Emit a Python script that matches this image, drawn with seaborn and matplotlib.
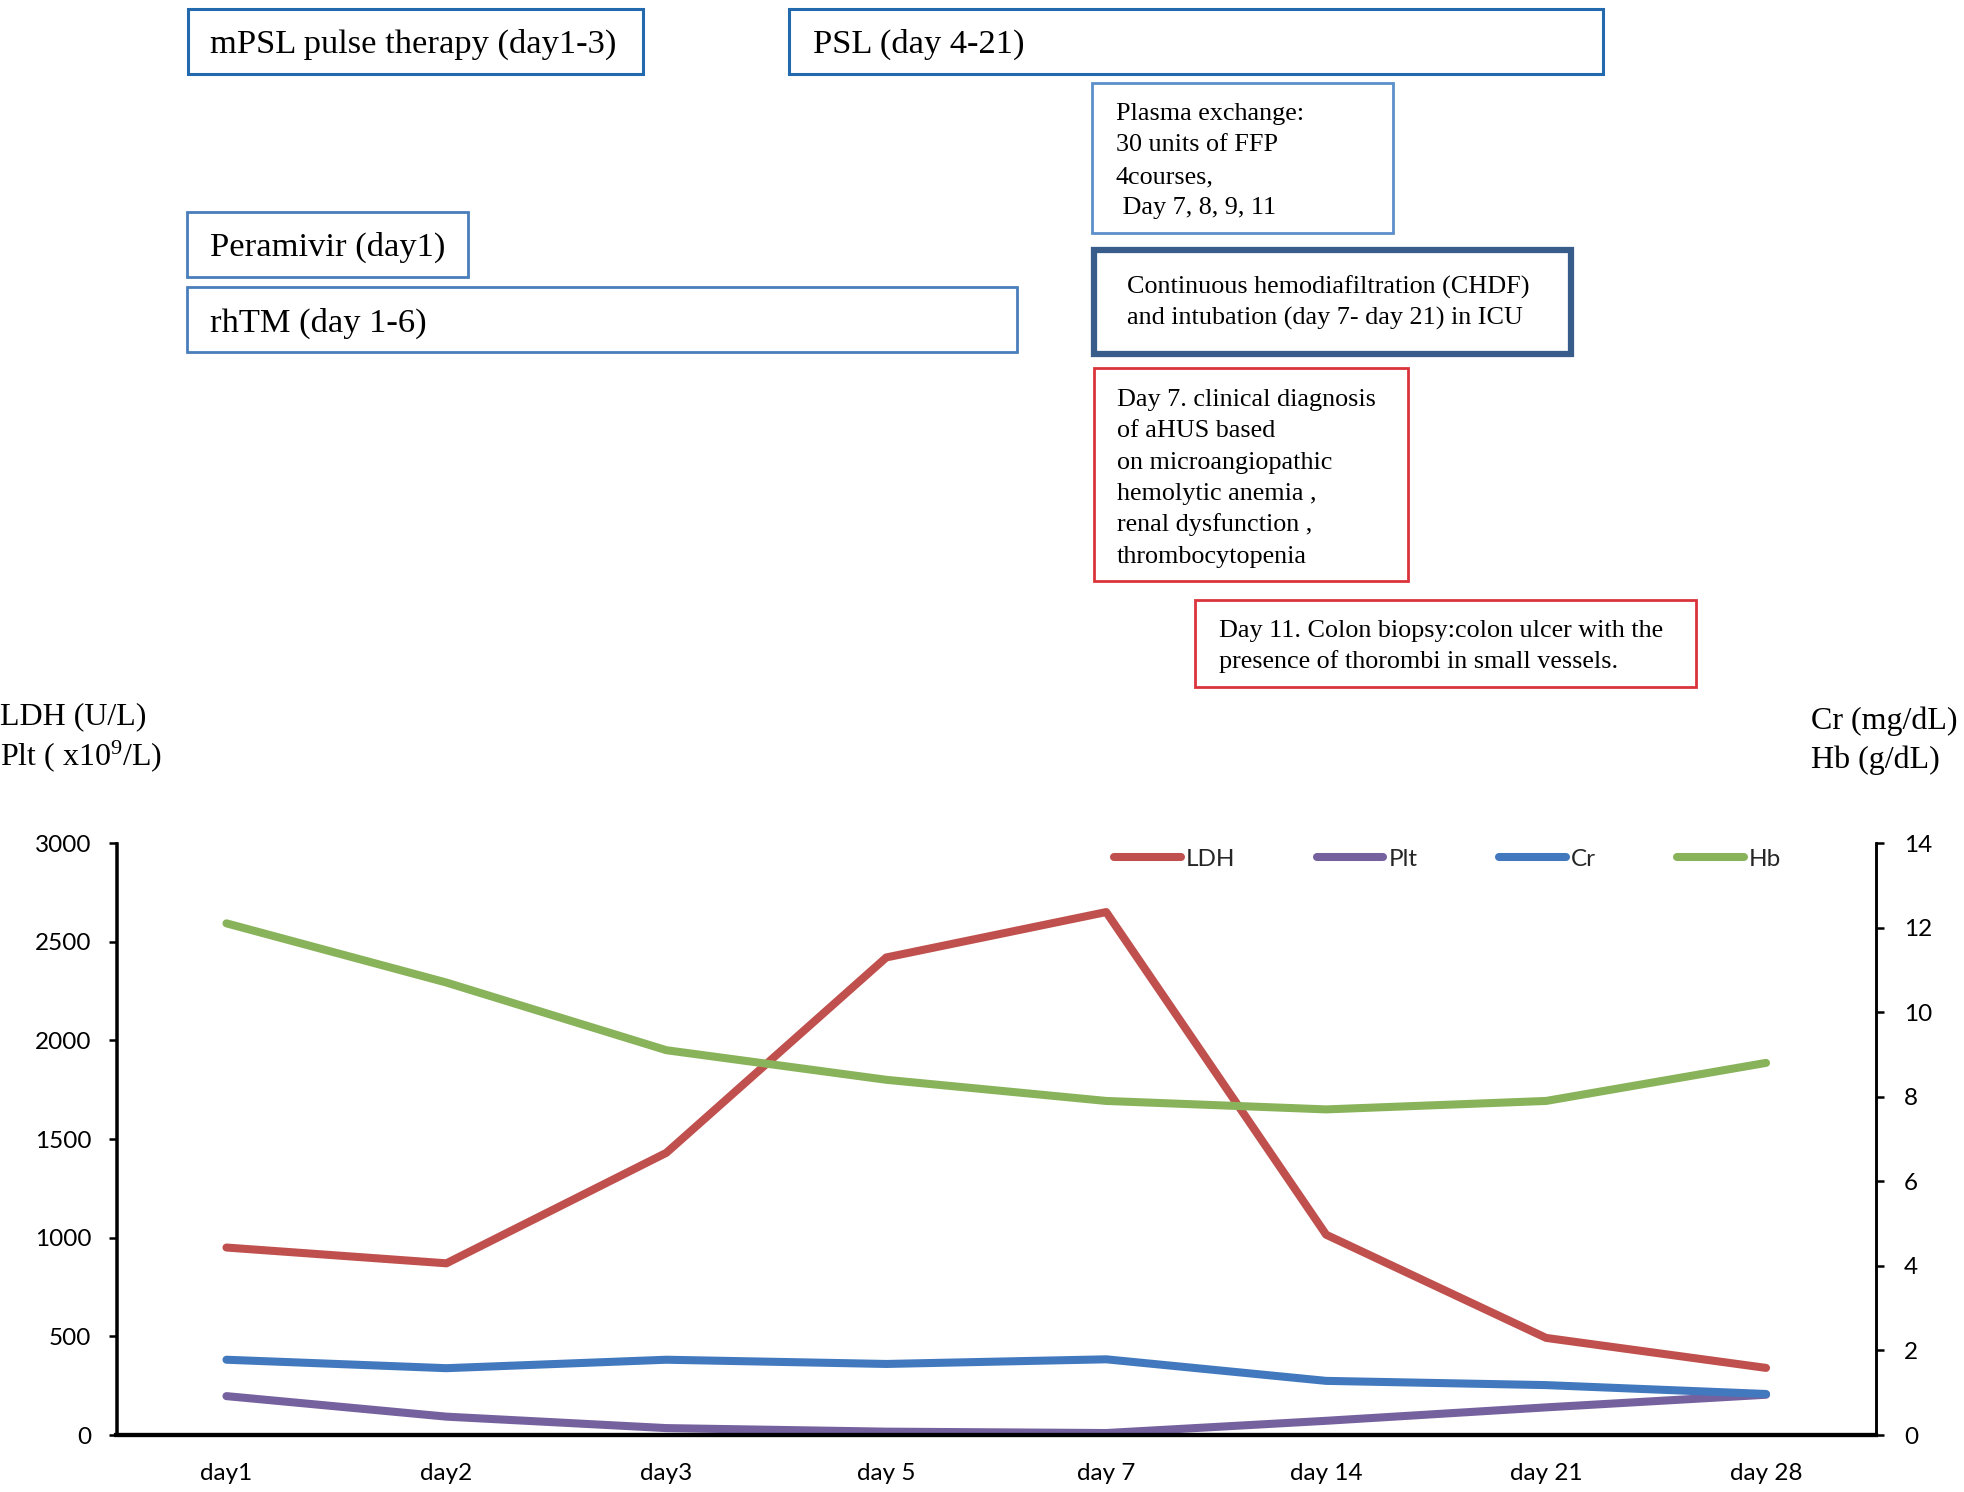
import matplotlib
matplotlib.use("Agg")
import matplotlib.pyplot as plt
from matplotlib.patches import Rectangle
from matplotlib.lines import Line2D
import seaborn as sns
import numpy as np

# ---------------- data ----------------
days = ["day1", "day2", "day3", "day 5", "day 7", "day 14", "day 21", "day 28"]
ldh = [950, 870, 1430, 2420, 2650, 1015, 492, 340]
plt_count = [197, 93, 35, 17, 10, 72, 140, 204]
cr = [1.78, 1.58, 1.78, 1.68, 1.79, 1.28, 1.18, 0.97]
hb = [12.1, 10.7, 9.1, 8.4, 7.9, 7.7, 7.9, 8.8]

left_ticks = [0, 500, 1000, 1500, 2000, 2500, 3000]
right_ticks = [0, 2, 4, 6, 8, 10, 12, 14]

c_ldh, c_plt, c_cr, c_hb = "#C0504D", "#75619E", "#4279BE", "#89B35A"

# ---------------- style ----------------
sns.set_style("white")
plt.rcParams["font.family"] = ["Lato", "DejaVu Sans"]
plt.rcParams["mathtext.fontset"] = "custom"
plt.rcParams["mathtext.rm"] = "Liberation Serif"
plt.rcParams["mathtext.it"] = "Liberation Serif:italic"

W, H = 1964, 1492
fig = plt.figure(figsize=(W / 100, H / 100), dpi=100)
fig.patch.set_facecolor("white")

# axes placement (pixels)
ax_l, ax_r, ax_t, ax_b = 116.5, 1876, 843, 1435
ax = fig.add_axes([ax_l / W, 1 - ax_b / H, (ax_r - ax_l) / W, (ax_b - ax_t) / H])
ax2 = ax.twinx()

x = np.arange(len(days))
lw = 5.8
sns.lineplot(x=x, y=ldh, ax=ax, color=c_ldh, linewidth=lw, legend=False)
sns.lineplot(x=x, y=plt_count, ax=ax, color=c_plt, linewidth=lw, legend=False)
sns.lineplot(x=x, y=cr, ax=ax2, color=c_cr, linewidth=lw, legend=False)
sns.lineplot(x=x, y=hb, ax=ax2, color=c_hb, linewidth=lw, legend=False)
for a in (ax, ax2):
    for ln in a.get_lines():
        ln.set_solid_joinstyle("round")
        ln.set_solid_capstyle("round")

ax.set_xlim(-0.5, len(days) - 0.5)
ax.set_ylim(0, 3000)
ax2.set_ylim(0, 14)
ax.set_xticks(x)
ax.set_xticklabels(days)
ax.set_yticks(left_ticks)
ax2.set_yticks(right_ticks)
ax.set_xlabel("")
ax.set_ylabel("")
ax2.set_ylabel("")

for a in (ax, ax2):
    a.spines["top"].set_visible(False)
    for s in ("left", "right"):
        a.spines[s].set_color("black")
        a.spines[s].set_linewidth(1.8)
    a.spines["bottom"].set_color("black")
    a.spines["bottom"].set_linewidth(3.0)
    a.grid(False)
ax.tick_params(axis="y", which="both", left=True, length=6, width=1.8, direction="out",
               labelsize=17.5, pad=12, colors="black")
ax2.tick_params(axis="y", which="both", right=True, length=6, width=1.8, direction="out",
                labelsize=17.5, pad=14, colors="black")
ax.tick_params(axis="x", length=0, labelsize=17.5, pad=20, colors="black")

# legend
handles = [Line2D([], [], color=c, lw=lw, solid_capstyle="round") for c in (c_ldh, c_plt, c_cr, c_hb)]
fig.legend(handles, ["LDH", "Plt", "Cr", "Hb"], loc="center left",
           bbox_to_anchor=(1114 / W, 1 - 859 / H), ncol=4, frameon=False,
           handlelength=2.75, handletextpad=0.2, columnspacing=3.35,
           borderpad=0, borderaxespad=0, fontsize=17.5)

# ---------------- annotation boxes ----------------
def box(x0, y0, x1, y1, color, lw_box):
    r = Rectangle((x0 / W, 1 - y1 / H), (x1 - x0) / W, (y1 - y0) / H,
                  transform=fig.transFigure, fill=False, edgecolor=color,
                  linewidth=lw_box, zorder=5)
    fig.add_artist(r)

def txt(xp, yp, s, size, ha="left"):
    fig.text(xp / W, 1 - yp / H, s, fontsize=size, ha=ha, va="center",
             family=["Liberation Serif", "DejaVu Serif"], color="black")

blue1 = "#2369AE"
blue2 = "#4A7EBB"
blue3 = "#5B8FCB"
navy = "#385D8A"
red = "#DA343B"

big, small, label = 24.8, 18.8, 23

box(188, 9, 643, 74, blue1, 2.2)
txt(210, 44, "mPSL pulse therapy (day1-3)", big)
box(789, 9, 1603, 74, blue1, 2.2)
txt(813, 44, "PSL (day 4-21)", big)

box(187, 212, 468, 277, blue2, 2.0)
txt(210, 247, "Peramivir (day1)", big)
box(187, 287, 1017, 352, blue2, 2.0)
txt(210, 323, "rhTM (day 1-6)", big)

box(1092, 83, 1393, 233, blue3, 2.0)
for yy, s in zip([114, 145, 177, 208],
                 ["Plasma exchange:", "30 units of FFP", "4courses,", " Day 7, 8, 9, 11"]):
    txt(1116, yy, s, small)

box(1094, 250, 1571, 354, navy, 4.5)
for yy, s in zip([287, 318], ["Continuous hemodiafiltration (CHDF)",
                              "and intubation (day 7- day 21) in ICU"]):
    txt(1127, yy, s, small)

box(1094, 368, 1408, 581, red, 2.0)
for yy, s in zip([400, 431, 463, 494, 525, 557],
                 ["Day 7. clinical diagnosis", "of aHUS based", "on microangiopathic",
                  "hemolytic anemia ,", "renal dysfunction ,", "thrombocytopenia"]):
    txt(1117, yy, s, small)

box(1195, 600, 1696, 687, red, 2.0)
for yy, s in zip([631, 662], ["Day 11. Colon biopsy:colon ulcer with the",
                              "presence of thorombi in small vessels."]):
    txt(1219, yy, s, small)

# axis titles
txt(0, 717, "LDH (U/L)", label)
txt(0, 756, r"Plt ( x10$^{\mathrm{9}}$/L)", label)
txt(1811, 721, "Cr (mg/dL)", label)
txt(1811, 760, "Hb (g/dL)", label)

fig.savefig("out.png", dpi=100, facecolor="white")
